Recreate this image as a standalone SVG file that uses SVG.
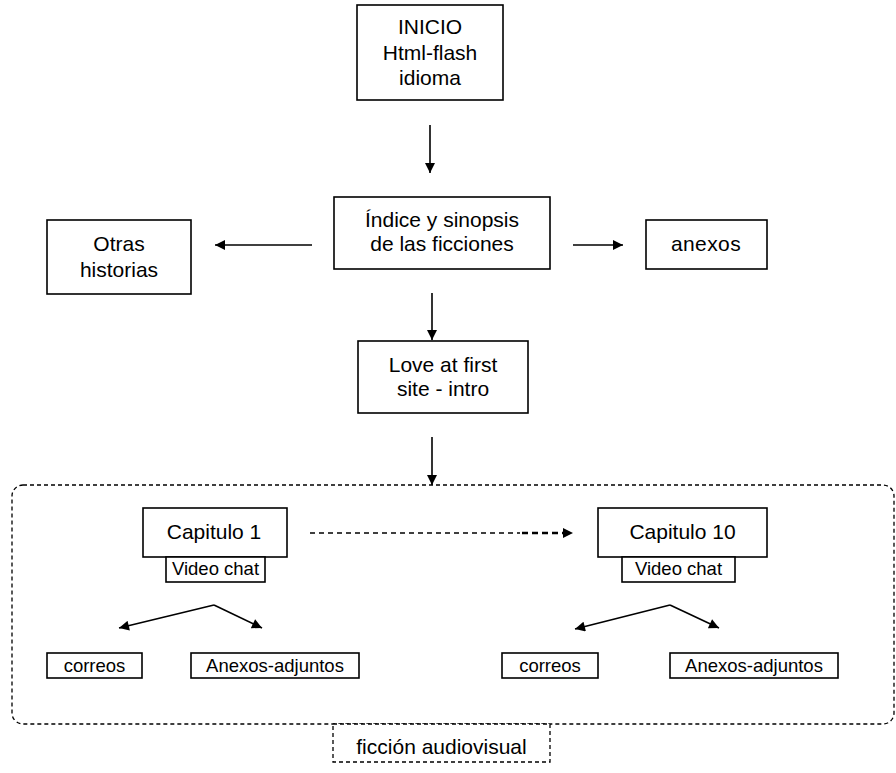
<svg xmlns="http://www.w3.org/2000/svg" width="896" height="773" viewBox="0 0 896 773">
  <style>
    .box { fill: #fff; stroke: #000; stroke-width: 1.6; }
    .dbox { fill: none; stroke: #000; stroke-width: 1.3; stroke-dasharray: 4 3; }
    .t { font-family: "Liberation Sans", Arial, sans-serif; font-size: 21px; fill: #000; text-anchor: middle; }
    .s { font-family: "Liberation Sans", Arial, sans-serif; font-size: 18.5px; fill: #000; text-anchor: middle; }
    .ln { stroke: #000; stroke-width: 1.6; fill: none; }
  </style>
  <defs>
    <marker id="ah" viewBox="0 0 10 10" refX="10" refY="5" markerWidth="11" markerHeight="10" markerUnits="userSpaceOnUse" orient="auto">
      <path d="M0,0 L10,5 L0,10 Z" fill="#000"/>
    </marker>
  </defs>

  <!-- fiction container -->
  <g id="container">
    <rect class="dbox" x="12" y="485" width="882" height="239" rx="11"/>
  </g>

  <g id="inicio">
    <rect class="box" x="357" y="5" width="146" height="95"/>
    <text class="t" x="430" y="34">INICIO</text>
    <text class="t" x="430" y="59.5">Html-flash</text>
    <text class="t" x="430" y="85">idioma</text>
  </g>

  <g id="indice">
    <rect class="box" x="334" y="197" width="216" height="72"/>
    <text class="t" x="442" y="227">Índice y sinopsis</text>
    <text class="t" x="442" y="251">de las ficciones</text>
  </g>

  <g id="otras">
    <rect class="box" x="47" y="220" width="144" height="74"/>
    <text class="t" x="119" y="251">Otras</text>
    <text class="t" x="119" y="277">historias</text>
  </g>

  <g id="anexos">
    <rect class="box" x="646" y="220" width="121" height="49"/>
    <text class="t" x="706" y="251" letter-spacing="0.4">anexos</text>
  </g>

  <g id="love">
    <rect class="box" x="358" y="341" width="170" height="72"/>
    <text class="t" x="443" y="372">Love at first</text>
    <text class="t" x="443" y="396">site - intro</text>
  </g>

  <g id="capitulo1">
    <rect class="box" x="143" y="508" width="144" height="49"/>
    <text class="t" x="214" y="539">Capitulo 1</text>
  </g>
  <g id="videochat1">
    <rect class="box" x="166" y="557" width="99" height="25"/>
    <text class="s" x="215.5" y="575">Video chat</text>
  </g>
  <g id="correos1">
    <rect class="box" x="47" y="653" width="95" height="25"/>
    <text class="s" x="94.5" y="672">correos</text>
  </g>
  <g id="adjuntos1">
    <rect class="box" x="191" y="653" width="168" height="25"/>
    <text class="s" x="275" y="672">Anexos-adjuntos</text>
  </g>

  <g id="capitulo10">
    <rect class="box" x="598" y="508" width="169" height="49"/>
    <text class="t" x="682.5" y="539">Capitulo 10</text>
  </g>
  <g id="videochat10">
    <rect class="box" x="622" y="557" width="113" height="25"/>
    <text class="s" x="678.5" y="575">Video chat</text>
  </g>
  <g id="correos10">
    <rect class="box" x="502" y="653" width="96" height="25"/>
    <text class="s" x="550" y="672">correos</text>
  </g>
  <g id="adjuntos10">
    <rect class="box" x="670" y="653" width="168" height="25"/>
    <text class="s" x="754" y="672">Anexos-adjuntos</text>
  </g>

  <g id="ficcion">
    <rect class="dbox" x="333" y="724" width="217" height="38" style="fill:#fff"/>
    <text class="t" x="441.5" y="754">ficción audiovisual</text>
  </g>

  <!-- connectors -->
  <g id="connectors">
    <line class="ln" x1="430" y1="125" x2="430" y2="173" marker-end="url(#ah)"/>
    <line class="ln" x1="312" y1="245" x2="215" y2="245" stroke-width="2" marker-end="url(#ah)"/>
    <line class="ln" x1="573" y1="245" x2="623" y2="245" stroke-width="2" marker-end="url(#ah)"/>
    <line class="ln" x1="432" y1="293" x2="432" y2="340" marker-end="url(#ah)"/>
    <line class="ln" x1="432" y1="437" x2="432" y2="485" marker-end="url(#ah)"/>

    <line x1="310" y1="533" x2="520" y2="533" stroke="#000" stroke-width="1.4" stroke-dasharray="5 4"/>
    <line x1="522" y1="533" x2="565" y2="533" stroke="#000" stroke-width="2.4" stroke-dasharray="6 4"/>
    <path d="M563,528 L573,533 L563,538 Z" fill="#000"/>

    <line class="ln" x1="214" y1="605" x2="119" y2="628" stroke-width="2" marker-end="url(#ah)"/>
    <line class="ln" x1="214" y1="605" x2="262" y2="628" stroke-width="2" marker-end="url(#ah)"/>
    <line class="ln" x1="670" y1="605" x2="575" y2="629" stroke-width="2" marker-end="url(#ah)"/>
    <line class="ln" x1="670" y1="605" x2="719" y2="628" stroke-width="2" marker-end="url(#ah)"/>
  </g>
</svg>
